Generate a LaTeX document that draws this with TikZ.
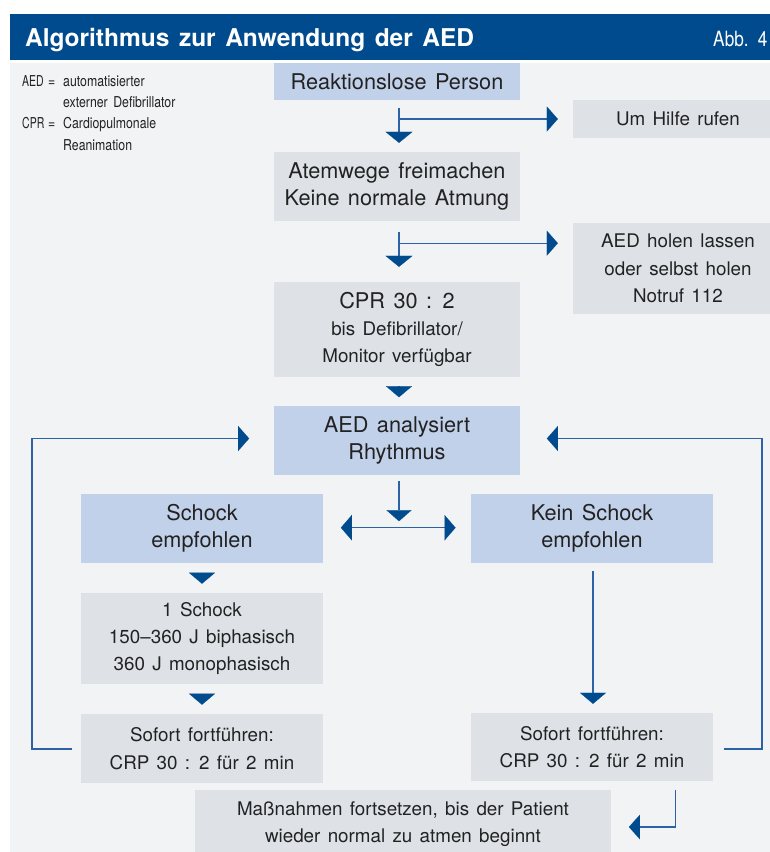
\documentclass[tikz,border=0pt]{standalone}
\usepackage{fontspec}
\setmainfont{TeX Gyre Heros}[WordSpace=1.4]
\newfontfamily\titlefont{TeX Gyre Heros}[WordSpace=1.4]
\newfontfamily\condfont{TeX Gyre Heros}[FakeStretch=0.82,WordSpace=1.6]
\newfontfamily\abbrfont{TeX Gyre Heros}[FakeStretch=0.7]
\usetikzlibrary{arrows.meta,calc}
\definecolor{hdr}{HTML}{004B8D}
\definecolor{bgc}{HTML}{F2F3F5}
\definecolor{lblue}{HTML}{C2D1EA}
\definecolor{lgray}{HTML}{DEE2E7}
\definecolor{txt}{HTML}{222222}
\definecolor{lnc}{HTML}{2E62A6}
\definecolor{tric}{HTML}{004B8D}
\begin{document}
\begin{tikzpicture}[x=1pt,y=1pt,
  box/.style={rectangle, inner sep=0pt, align=center, text=txt},
  bluebox/.style={box, fill=lblue},
  graybox/.style={box, fill=lgray},
  bigtxt/.style={font=\fontsize{21.7}{27.5}\selectfont},
  smalltxt/.style={font=\fontsize{18.8}{27.3}\selectfont},
  con/.style={draw=lnc, line width=1.4pt},
  tri/.style={-{Triangle[width=#1,length=11pt,color=tric,line width=0.1pt]}},
  dtri/.style={{Triangle[width=#1,length=11pt,color=tric,line width=0.1pt]}-{Triangle[width=#1,length=11pt,color=tric,line width=0.1pt]}},
  legend/.style={anchor=base west, inner sep=0pt, font=\condfont\fontsize{15}{18}\selectfont, text=txt},
  legabbr/.style={anchor=base west, inner sep=0pt, font=\abbrfont\fontsize{15}{18}\selectfont, text=txt}
]
\useasboundingbox (0,0) rectangle (769,-852);
% background
\fill[bgc] (10,-63) rectangle (790,-870);
\fill[hdr] (10,-14) rectangle (790,-60);
\node[anchor=base west, inner sep=0pt, text=white, font=\titlefont\bfseries\fontsize{24.5}{28}\selectfont] (title) at (25,-46.7) {Algorithmus zur Anwendung der AED};
\node[anchor=base west, inner sep=0pt, text=white, font=\condfont\fontsize{21}{26}\selectfont] (abb) at (713,-46.7) {Abb. 4};
% legend
\node[legabbr] (l1) at (22,-86) {AED};
\node[legend] (l1e) at (48,-86) {=};
\node[legend] (l1t) at (63,-86) {automatisierter};
\node[legend] (l2t) at (63,-107) {externer Defibrillator};
\node[legabbr] (l3) at (22,-128.5) {CPR};
\node[legend] (l3e) at (48,-128.5) {=};
\node[legend] (l3t) at (63,-128.5) {Cardiopulmonale};
\node[legend] (l4t) at (63,-150) {Reanimation};
% boxes
\node[bluebox,bigtxt,minimum width=246pt,minimum height=37pt] (react) at (397,-81.5) {Reaktionslose Person};
\node[graybox,smalltxt,minimum width=210pt,minimum height=38pt] (hilfe) at (678,-119) {Um Hilfe rufen};
\node[graybox,bigtxt,minimum width=246pt,minimum height=69pt] (atem) at (397,-186.5) {Atemwege freimachen\\Keine normale Atmung};
\node[graybox,smalltxt,minimum width=210pt,minimum height=91pt] (holen) at (678,-268.5) {AED holen lassen\\oder selbst holen\\Notruf 112};
\node[graybox,smalltxt,minimum width=246pt,minimum height=95pt] (cpr) at (397,-329.5) {{\fontsize{21.7}{27}\selectfont CPR 30 : 2}\\bis Defibrillator/\\Monitor verfügbar};
\node[bluebox,bigtxt,minimum width=246pt,minimum height=69pt] (rhythm) at (397,-440.5) {AED analysiert\\Rhythmus};
\node[bluebox,bigtxt,minimum width=242pt,minimum height=69pt] (schock) at (202,-528.5) {Schock\\empfohlen};
\node[bluebox,bigtxt,minimum width=242pt,minimum height=69pt] (kein) at (592,-528.5) {Kein Schock\\empfohlen};
\node[graybox,smalltxt,minimum width=242pt,minimum height=91pt] (eins) at (202,-638.5) {1 Schock\\150–360 J biphasisch\\360 J monophasisch};
\node[graybox,smalltxt,minimum width=242pt,minimum height=69pt] (sofl) at (202,-748.5) {Sofort fortführen:\\CRP 30 : 2 für 2 min};
\node[graybox,smalltxt,minimum width=242pt,minimum height=68pt] (sofr) at (592,-747) {Sofort fortführen:\\CRP 30 : 2 für 2 min};
\node[graybox,smalltxt,minimum width=416pt,minimum height=68pt] (mass) at (403,-824) {Maßnahmen fortsetzen, bis der Patient\\wieder normal zu atmen beginnt};
% connectors
\coordinate (a1s) at ($(react.south)+(2,-8)$);
\draw[con,tri=27pt] (a1s) -- ($(atem.north)+(2,9)$);
\draw[con,tri=25pt] (a1s |- hilfe.west) -- ($(hilfe.west)+(-15,0)$);
\coordinate (a2s) at ($(atem.south)+(2,-11)$);
\draw[con,tri=27pt] (a2s) -- ($(cpr.north)+(2,15)$);
\coordinate (h2s) at ($(atem.south)+(2,-22)$);
\draw[con,tri=25pt] (h2s) -- ($(h2s -| holen.west)+(-15,0)$);
\draw[con,tri=26pt] ($(cpr.south)+(2,-9)$) -- ($(cpr.south)+(2,-20)$);
\draw[con,tri=25pt] ($(rhythm.south)+(2,-6)$) -- ($(rhythm.south)+(2,-46)$);
\draw[con,dtri=25.5pt] ($(schock.east)+(17.7,0.8)$) -- ($(kein.west)+(-15.3,0.8)$);
\draw[con,tri=26pt] ($(schock.south)+(0,-9.5)$) -- ($(schock.south)+(0,-20.5)$);
\draw[con,tri=26pt] ($(eins.south)+(0,-9.5)$) -- ($(eins.south)+(0,-20.5)$);
\draw[con,tri=26pt] ($(kein.south)+(1,-8)$) -- ($(sofr.north)+(1,9)$);
\coordinate (lcorner) at (32,-438.5);
\draw[con,tri=25pt] ($(sofl.west)+(-9.3,-0.5)$) -| (lcorner) -- ($(rhythm.west)+(-24.7,2)$);
\coordinate (rcorner) at (762,-438.5);
\draw[con,tri=25pt] ($(sofr.east)+(10.3,-2)$) -| (rcorner) -- ($(rhythm.east)+(26.7,2)$);
\draw[con,tri=24.5pt] ($(sofr.south)+(83.3,-9)$) |- ($(mass.east)+(17.7,-3)$);
\end{tikzpicture}
\end{document}
